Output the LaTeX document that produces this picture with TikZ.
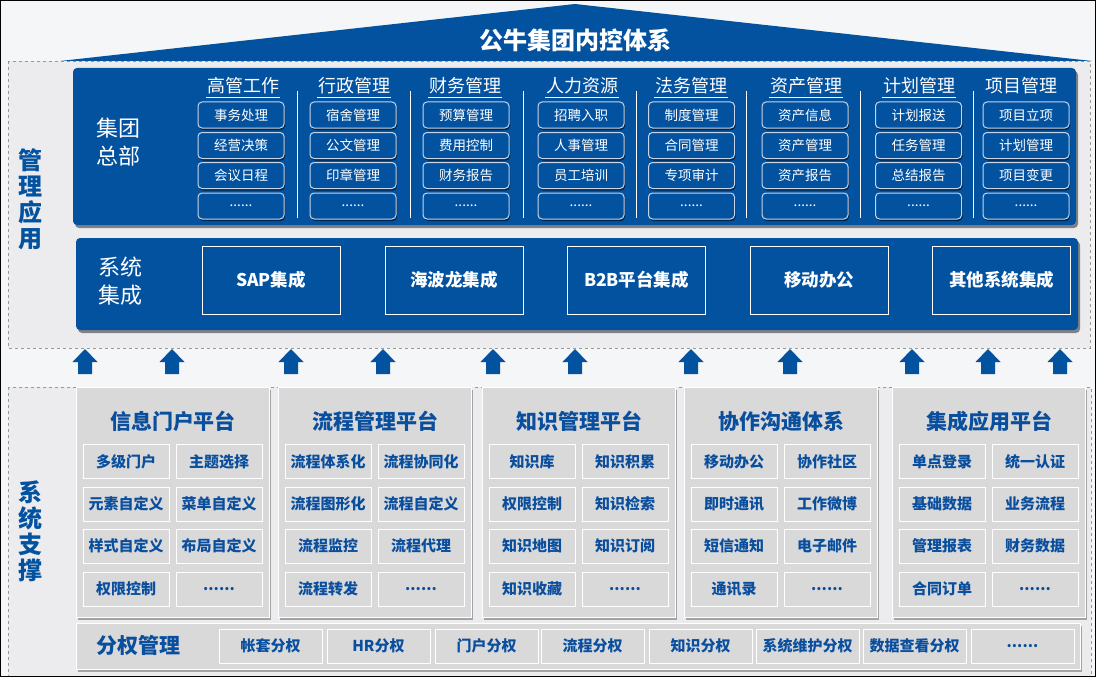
\documentclass[tikz,border=0pt]{standalone}
\usepackage{fontspec}
\setmainfont{Noto Sans CJK SC}
\usetikzlibrary{shadows}
\definecolor{mainblue}{RGB}{3,82,160}
\definecolor{panelgray}{RGB}{217,217,217}
\definecolor{bgout}{RGB}{245,246,248}
\definecolor{bgin}{RGB}{236,236,239}
\definecolor{boxline}{RGB}{200,212,232}
\definecolor{txtblue}{RGB}{10,78,158}
\newcommand\mydots{......}
\begin{document}
\begin{tikzpicture}[x=1pt,y=-1pt,
  region/.style={draw=gray!80, dashed, fill=bgin, line width=0.7pt},
  bluepanel/.style={fill=mainblue, rounded corners=4pt, drop shadow={shadow xshift=2pt, shadow yshift=-3pt, opacity=0.45, fill=black}},
  uphead/.style={text=white, font=\fontsize{18}{20}\selectfont, inner sep=0pt},
  ubox/.style={draw=boxline, line width=1pt, fill=mainblue, rounded corners=4pt, minimum width=86pt, minimum height=26pt, inner sep=0pt, text=white, font=\fontsize{13.5}{15}\selectfont, drop shadow={shadow xshift=1pt, shadow yshift=-2pt, opacity=0.55, fill=black}},
  ibox/.style={draw=white, line width=1pt, minimum width=138pt, minimum height=68pt, inner sep=0pt, text=white, font=\bfseries\fontsize{17.5}{19}\selectfont},
  graypanel/.style={draw=white, line width=1pt, fill=panelgray, minimum width=193pt, minimum height=230pt, inner sep=0pt, drop shadow={shadow xshift=1.5pt, shadow yshift=-2.5pt, opacity=0.45, fill=black!70}},
  gtitle/.style={text=txtblue, font=\bfseries\fontsize{21}{23}\selectfont, inner sep=0pt},
  gbox/.style={draw=white, line width=1pt, minimum width=86pt, minimum height=34pt, inner sep=0pt, text=txtblue, font=\bfseries\fontsize{15}{17}\selectfont},
  vlabel/.style={text=mainblue, align=center, font=\bfseries\fontsize{24}{26}\selectfont, inner sep=0pt},
  wlabel/.style={text=white, align=center, font=\fontsize{22}{27.5}\selectfont, inner sep=0pt},
  upsym/.style={fill=mainblue}
]
\useasboundingbox (0,0) rectangle (1096,677);
\fill[bgout] (0,0) rectangle (1096,677);
% dashed regions
\draw[region] (8,61) rectangle (1090,348);
\draw[region] (8,387) rectangle (1091,700);
% roof
\fill[mainblue] (60,61) -- (575,4) -- (1092,61) -- cycle;
\node[text=white, font=\bfseries\fontsize{24}{26}\selectfont, inner sep=0pt] (title) at (575,40) {公牛集团内控体系};
% vertical labels
\node[vlabel] (lab1) at (31,199) {管\\理\\应\\用};
\node[vlabel] (lab2) at (31,531) {系\\统\\支\\撑};
% upper panel
\node[bluepanel, minimum width=1003pt, minimum height=157pt, inner sep=0pt] (hq) at (574.5,146.5) {};
\node[wlabel] (hqlab) at (118,142) {集团\\总部};
\foreach \cx/\hx/\H/\a/\b/\c [count=\i] in {
  241/243/高管工作/事务处理/经营决策/会议日程,
  353/354/行政管理/宿舍管理/公文管理/印章管理,
  466/465/财务管理/预算管理/费用控制/财务报告,
  581/582/人力资源/招聘入职/人事管理/员工培训,
  691.5/691/法务管理/制度管理/合同管理/专项审计,
  805/806/资产管理/资产信息/资产管理/资产报告,
  918.5/919/计划管理/计划报送/任务管理/总结报告,
  1026/1021/项目管理/项目立项/计划管理/项目变更}{
  \node[uphead] (h\i) at (\hx,86) {\H};
  \node[ubox] (u\i a) at (\cx,115) {\a};
  \node[ubox] (u\i b) at (\cx,145.5) {\b};
  \node[ubox] (u\i c) at (\cx,175.5) {\c};
  \node[ubox] (u\i d) at (\cx,206) {\mydots};
}
\foreach \i in {1,...,7}{
  \draw[white, line width=0.8pt] ([xshift=-1pt,yshift=-3pt]h\i.south west) -- ([xshift=1pt,yshift=-3pt]h\i.south east);
}
\foreach \sx in {297,410,523,636,746,860,973}{
  \draw[white, line width=1pt] (\sx,91) -- (\sx,218);
}
% integration panel
\node[bluepanel, minimum width=1002pt, minimum height=92pt, inner sep=0pt] (si) at (577,284) {};
\node[wlabel] (silab) at (120,281) {系统\\集成};
\foreach \x/\t [count=\i] in {271/SAP集成, 454/海波龙集成, 636.5/B2B平台集成, 819/移动办公, 1001.5/其他系统集成}{
  \node[ibox] (int\i) at (\x,280) {\t};
}
% arrows
\foreach \c in {85,172,291,383,493,575,691,790,912,988,1060}{
  \fill[upsym] (\c-12.5,362) -- (\c,349) -- (\c+12.5,362) -- (\c+7,362) -- (\c+7,374) -- (\c-7,374) -- (\c-7,362) -- cycle;
}
% platform panels
\foreach \L/\T/\a/\b/\c/\d/\e/\f/\g [count=\i] in {
  76/信息门户平台/多级门户/主题选择/元素自定义/菜单自定义/样式自定义/布局自定义/权限控制,
  278/流程管理平台/流程体系化/流程协同化/流程图形化/流程自定义/流程监控/流程代理/流程转发,
  482/知识管理平台/知识库/知识积累/权限控制/知识检索/知识地图/知识订阅/知识收藏,
  684/协作沟通体系/移动办公/协作社区/即时通讯/工作微博/短信通知/电子邮件/通讯录,
  892/集成应用平台/单点登录/统一认证/基础数据/业务流程/管理报表/财务数据/合同订单}{
  \node[graypanel] (p\i) at (\L+96.5,502) {};
  \node[gtitle] (pt\i) at (\L+97,421) {\T};
  \node[gbox] (p\i a) at (\L+50,461.5) {\a};
  \node[gbox] (p\i b) at (\L+143,461.5) {\b};
  \node[gbox] (p\i c) at (\L+50,504) {\c};
  \node[gbox] (p\i d) at (\L+143,504) {\d};
  \node[gbox] (p\i e) at (\L+50,546) {\e};
  \node[gbox] (p\i f) at (\L+143,546) {\f};
  \node[gbox] (p\i g) at (\L+50,589) {\g};
  \node[gbox] (p\i h) at (\L+143,589) {\mydots};
}
% authorization bar
\node[graypanel, minimum width=1004pt, minimum height=46pt] (bar) at (578,646) {};
\node[gtitle, font=\bfseries\fontsize{21}{23}\selectfont] (barlab) at (138,645) {分权管理};
\foreach \x/\t [count=\i] in {219/帐套分权, 327/HR分权, 435/门户分权, 541/流程分权, 649/知识分权, 756/系统维护分权, 863/数据查看分权, 971/\mydots}{
  \node[gbox, minimum width=103pt] (b\i) at (\x+51.5,646) {\t};
}
\draw[black, line width=1.2pt] (0.6,0.6) rectangle (1095.4,676.4);
\end{tikzpicture}
\end{document}
